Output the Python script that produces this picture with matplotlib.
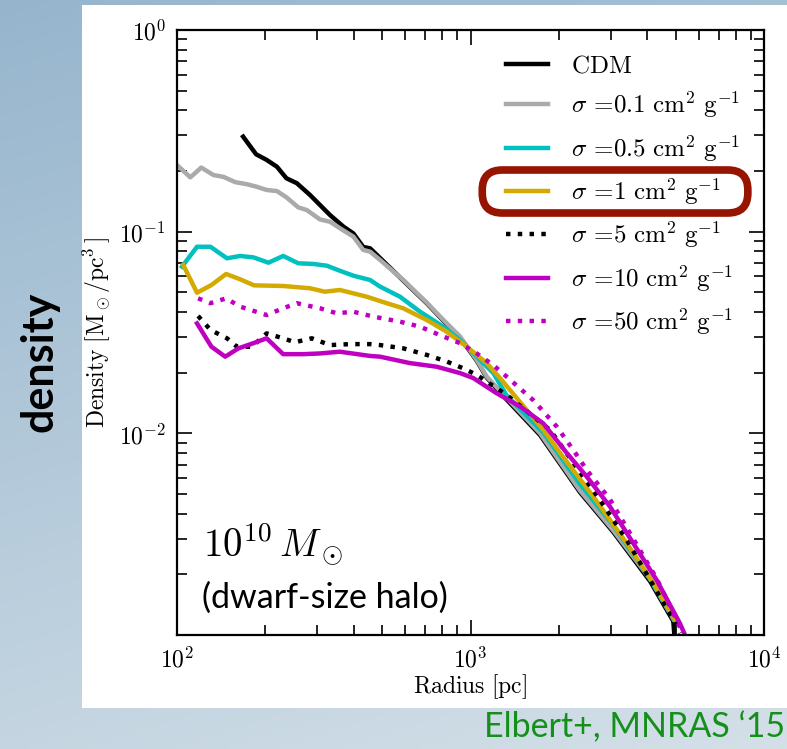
import numpy as np
import matplotlib
matplotlib.use("Agg")
import matplotlib.pyplot as plt
from matplotlib.ticker import FuncFormatter, NullFormatter
from matplotlib.patches import FancyBboxPatch, Rectangle
from matplotlib.transforms import IdentityTransform

plt.rcParams['mathtext.fontset'] = 'cm'
plt.rcParams['font.family'] = ['Lato', 'DejaVu Sans']

# density profiles (radius in pc, density in Msun/pc^3)
r_cdm = [168, 186, 202, 219, 236, 256, 284, 332, 369, 399, 431, 455, 590, 709, 808, 921,
         1050, 1136, 1328, 1726, 2361, 3066, 4089, 4909, 4975]
rho_cdm = [0.296, 0.242, 0.227, 0.210, 0.184, 0.174, 0.152, 0.121, 0.106, 0.098, 0.084, 0.0827,
           0.0572, 0.0442, 0.0362, 0.0299, 0.0229, 0.0189, 0.0147, 0.0098, 0.0051, 0.00324,
           0.00185, 0.00117, 0.0009]

r_s01 = [100, 111, 121, 133, 144, 158, 173, 187, 202, 219, 236, 259, 277, 307, 332, 359, 399,
         431, 455, 492, 590, 709, 808, 921, 1050, 1136, 1328, 1726, 2361, 3066, 4089, 4909]
rho_s01 = [0.214, 0.186, 0.208, 0.191, 0.187, 0.176, 0.172, 0.167, 0.161, 0.159, 0.148, 0.132,
           0.128, 0.115, 0.112, 0.104, 0.0945, 0.0812, 0.0796, 0.0724, 0.0576, 0.0445, 0.0365,
           0.0302, 0.0231, 0.0191, 0.0150, 0.0100, 0.0052, 0.0033, 0.0019, 0.0012]

r_s05 = [104, 117, 130, 148, 164, 182, 205, 230, 259, 291, 324, 359, 399, 455, 492, 575, 673,
         808, 921, 1050, 1196, 1328, 1770, 2361, 3066, 4089, 5040]
rho_s05 = [0.0671, 0.0842, 0.0842, 0.0738, 0.0758, 0.0746, 0.0702, 0.0758, 0.0697, 0.0692,
           0.0678, 0.0640, 0.0605, 0.0576, 0.0534, 0.0476, 0.0401, 0.0338, 0.0290, 0.0240,
           0.0199, 0.0154, 0.0101, 0.0056, 0.0035, 0.0019, 0.00114]

r_s1 = [105, 117, 131, 147, 164, 183, 230, 284, 319, 359, 443, 518, 590, 709, 830, 970, 1136,
        1260, 1770, 2018, 2620, 3405, 4197, 4975]
rho_s1 = [0.0684, 0.0498, 0.0544, 0.0617, 0.0581, 0.0542, 0.0538, 0.0524, 0.0504, 0.0514,
          0.0476, 0.0442, 0.0417, 0.0365, 0.0319, 0.0269, 0.0223, 0.0188, 0.0104, 0.0080,
          0.00486, 0.00285, 0.00181, 0.00119]

r_s5 = [118, 130, 148, 160, 180, 202, 230, 252, 288, 332, 388, 455, 492, 590, 709, 830, 945,
        1050, 1328, 1866, 2761, 3405, 4089, 4909, 5173]
rho_s5 = [0.0382, 0.0326, 0.0296, 0.0269, 0.0269, 0.0313, 0.0296, 0.0283, 0.0296, 0.0274,
          0.0277, 0.0277, 0.0274, 0.0264, 0.0245, 0.0227, 0.0210, 0.0195, 0.0155, 0.0104,
          0.00467, 0.00296, 0.00188, 0.00119, 0.00102]

r_s10 = [117, 131, 146, 162, 182, 202, 230, 269, 307, 359, 455, 492, 622, 767, 921, 1022, 1228,
         1475, 1770, 2127, 2489, 2988, 3586, 4310, 5173, 5380]
rho_s10 = [0.0351, 0.0269, 0.0240, 0.0264, 0.0280, 0.0296, 0.0247, 0.0247, 0.0249, 0.0254,
           0.0242, 0.0240, 0.0223, 0.0214, 0.0199, 0.0188, 0.0158, 0.0136, 0.0112, 0.0080,
           0.0061, 0.00433, 0.00285, 0.00187, 0.00114, 0.00100]

r_s50 = [118, 130, 147, 164, 202, 230, 256, 307, 350, 399, 467, 575, 673, 787, 921, 1050, 1196,
         1328, 1637, 1967, 2240, 2489, 2988, 3586, 4310, 5290]
rho_s50 = [0.0467, 0.0442, 0.0467, 0.0425, 0.0386, 0.0417, 0.0442, 0.0417, 0.0394, 0.0401,
           0.0379, 0.0358, 0.0338, 0.0307, 0.0280, 0.0249, 0.0218, 0.0191, 0.0146, 0.0108,
           0.00827, 0.00658, 0.0047, 0.0030, 0.0019, 0.00102]

labels = [r'$\mathrm{CDM}$',
          r'$\sigma\,=\!0.1\ \mathrm{cm^2\ g^{-1}}$',
          r'$\sigma\,=\!0.5\ \mathrm{cm^2\ g^{-1}}$',
          r'$\sigma\,=\!1\ \mathrm{cm^2\ g^{-1}}$',
          r'$\sigma\,=\!5\ \mathrm{cm^2\ g^{-1}}$',
          r'$\sigma\,=\!10\ \mathrm{cm^2\ g^{-1}}$',
          r'$\sigma\,=\!50\ \mathrm{cm^2\ g^{-1}}$']

fig = plt.figure(figsize=(7.87, 7.49), dpi=100)

# slide background
bg = fig.add_axes([0, 0, 1, 1], zorder=-10)
yy, xx = np.mgrid[0:1:200j, 0:1:200j]
t = np.clip(0.75 * yy + 0.25 * xx, 0, 1)
top = np.array([150, 181, 205]) / 255
bot = np.array([212, 224, 232]) / 255
img = top[None, None, :] * (1 - t[..., None]) + bot[None, None, :] * t[..., None]
bg.imshow(img, aspect='auto', extent=[0, 1, 0, 1], origin='upper')
bg.set_axis_off()
fig.patches.append(Rectangle((0.1042, 0.0547), 0.8958, 0.9386, transform=fig.transFigure,
                             facecolor='white', edgecolor='none', zorder=-5))

ax = fig.add_axes([0.2249, 0.1522, 0.7459, 0.8077])
lw = 3.2
ax.plot(r_cdm, rho_cdm, color='black', lw=lw, label=labels[0])
ax.plot(r_s01, rho_s01, color='#aaaaaa', lw=lw, label=labels[1])
ax.plot(r_s05, rho_s05, color='#00c0c0', lw=lw, label=labels[2])
ax.plot(r_s1, rho_s1, color='#d4aa00', lw=lw, label=labels[3])
ax.plot(r_s5, rho_s5, color='black', lw=lw, ls=':', label=labels[4])
ax.plot(r_s10, rho_s10, color='#c000c0', lw=lw, label=labels[5])
ax.plot(r_s50, rho_s50, color='#c000c0', lw=lw, ls=':', label=labels[6])

ax.set_xscale('log')
ax.set_yscale('log')
ax.set_xlim(100, 10000)
ax.set_ylim(1e-3, 1)

ax.xaxis.set_major_formatter(FuncFormatter(lambda v, p: r'$10^{%d}$' % round(np.log10(v))))
ax.yaxis.set_major_formatter(FuncFormatter(
    lambda v, p: '' if round(np.log10(v)) == -3 else r'$10^{%d}$' % round(np.log10(v))))
ax.xaxis.set_minor_formatter(NullFormatter())
ax.yaxis.set_minor_formatter(NullFormatter())
ax.tick_params(which='both', direction='in', top=True, right=True, labelsize=17, width=1.2)
ax.tick_params(which='major', length=11, pad=8)
ax.tick_params(which='minor', length=7)
for s in ax.spines.values():
    s.set_linewidth(1.6)

ax.set_xlabel(r'$\mathrm{Radius\ [pc]}$', fontsize=17, labelpad=1)
ax.set_ylabel(r'$\mathrm{Density\ [M_\odot/pc^3\,]}$', fontsize=17, labelpad=4)

leg = ax.legend(loc='upper right', frameon=False, fontsize=18, handlelength=1.65,
                handletextpad=0.95, labelspacing=0.5, borderaxespad=0.55)

ax.text(0.045, 0.13, r'$10^{10}\,M_\odot$', transform=ax.transAxes, fontsize=28,
        ha='left', va='baseline')
ax.text(0.043, 0.045, '(dwarf-size halo)', transform=ax.transAxes, fontsize=24.5,
        ha='left', va='baseline')

fig.text(0.05, 0.517, 'density', rotation=90, fontsize=31, fontweight='bold',
         ha='center', va='center')
fig.text(0.997, 0.015, 'Elbert+, MNRAS \u201815', color='#14901a', fontsize=24.5,
         ha='right', va='baseline')

# highlight box around the sigma = 1 entry
fig.canvas.draw()
rend = fig.canvas.get_renderer()
tb = leg.get_texts()[3].get_window_extent(rend)
hb = leg.get_lines()[3].get_window_extent(rend)
yc = 0.5 * (tb.y0 + tb.y1)
x0 = hb.x0 - 24
x1 = tb.x1 + 27
h = 43
fig.patches.append(FancyBboxPatch((x0, yc - h / 2), x1 - x0, h,
                                  boxstyle='round,pad=0,rounding_size=20',
                                  transform=IdentityTransform(), facecolor='none',
                                  edgecolor='#961400', lw=5.5, zorder=10))

fig.savefig('out.png', dpi=100)
